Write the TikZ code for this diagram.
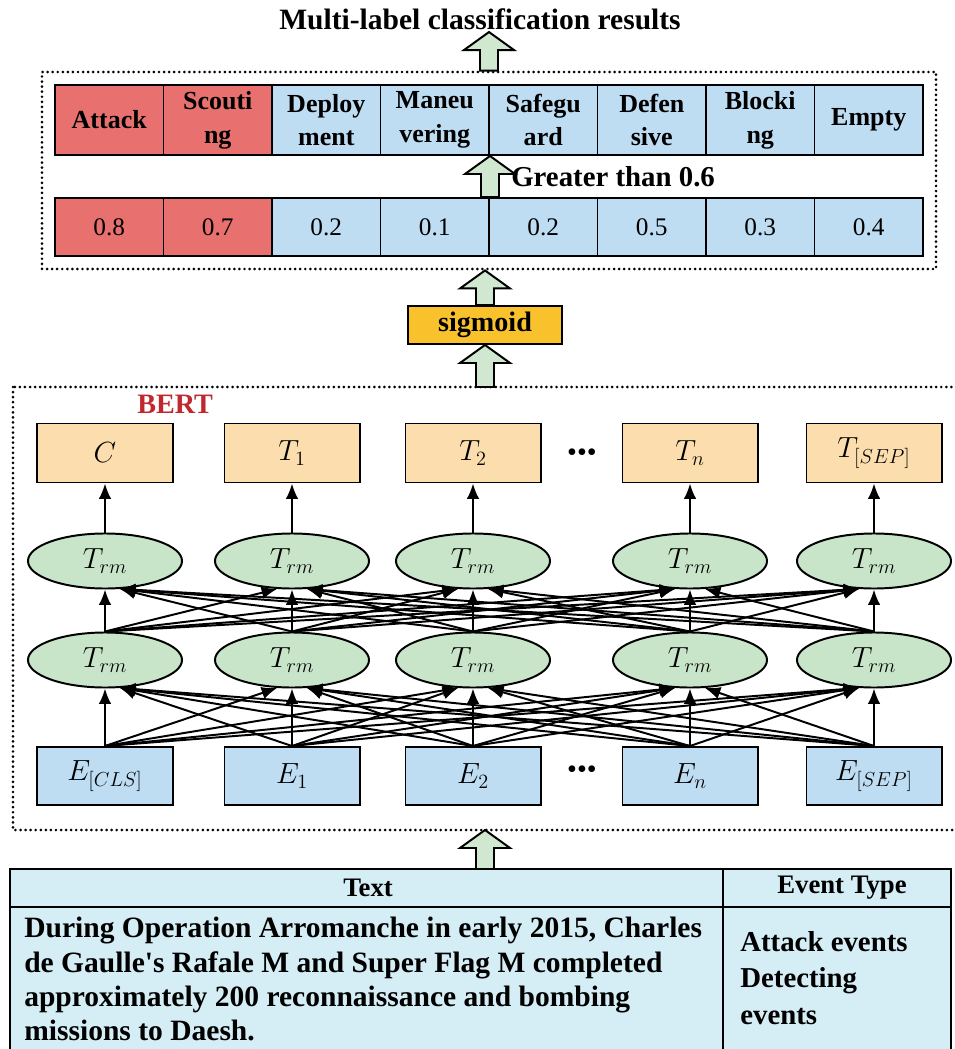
\documentclass[tikz,border=0pt]{standalone}
\usepackage{fontspec}
\setmainfont{Liberation Serif}
\usetikzlibrary{arrows.meta,calc,fit,positioning,shapes.geometric}

\definecolor{redcell}{HTML}{E8716F}
\definecolor{bluecell}{HTML}{BEDDF2}
\definecolor{orangebox}{HTML}{FCDEAE}
\definecolor{greenell}{HTML}{C9E5C9}
\definecolor{sigfill}{HTML}{F9C12B}
\definecolor{tabfill}{HTML}{D5EDF5}
\definecolor{arrfill}{HTML}{D0E8D0}
\definecolor{bertred}{HTML}{C0282D}

\tikzset{
	cell/.style={draw, line width=1.4pt, inner sep=0pt, minimum width=2.7125cm, align=center},
	labcell/.style={cell, minimum height=1.75cm, font=\fontsize{18.5}{24}\selectfont\bfseries},
	valcell/.style={cell, minimum height=1.45cm, font=\fontsize{18}{22}\selectfont},
	tbox/.style={draw, line width=1.4pt, fill=orangebox, minimum width=3.375cm, minimum height=1.475cm, inner sep=0pt, font=\fontsize{20}{24}\selectfont},
	ebox/.style={tbox, fill=bluecell, minimum height=1.45cm},
	trm/.style={ellipse, draw, line width=1.4pt, fill=greenell, minimum width=3.85cm, minimum height=1.375cm, inner sep=0pt, font=\fontsize{20}{24}\selectfont},
	link/.style={line width=1.4pt, -{Latex[length=11pt,width=9pt]}},
	dotbox/.style={draw, line width=2.1pt, line cap=round, dash pattern=on 0pt off 3.6pt},
	fatarr/.style={draw, line width=1.4pt, fill=arrfill, line join=miter},
	bigtext/.style={font=\fontsize{21}{25}\selectfont\bfseries}
}

% block arrow: #1 base, #2 tip (same x)
\newcommand{\fatarrow}[2]{\draw[fatarr] ($(#1)+(-9,0)$) -- ($(#2)+(-9,18)$) -- ($(#2)+(-25,18)$) -- (#2) -- ($(#2)+(25,18)$) -- ($(#2)+(9,18)$) -- ($(#1)+(9,0)$) -- cycle;}

\begin{document}
\begin{tikzpicture}[x=0.025cm, y=-0.025cm]
	\useasboundingbox (0,0) rectangle (954,1049);

	% result rows
	\node[bigtext, anchor=base, inner sep=1pt] (title) at (480,30) {Multi-label classification results};
	\foreach \lab/\val/\col [count=\i] in {Attack/0.8/redcell, Scouti\\ng/0.7/redcell, Deploy\\ment/0.2/bluecell, Maneu\\vering/0.1/bluecell, Safegu\\ard/0.2/bluecell, Defen\\sive/0.5/bluecell, Blocki\\ng/0.3/bluecell, Empty/0.4/bluecell}
	{
		\node[labcell, fill=\col] (l\i) at (55+108.5*\i-54.25,120) {\lab};
		\node[valcell, fill=\col] (v\i) at (55+108.5*\i-54.25,227) {\val};
	}
	\node[dotbox, fit=(l1)(v8), inner sep=0.3cm] (topbox) {};
	\node[anchor=base west, font=\fontsize{20.5}{24}\selectfont\bfseries, inner sep=0pt] (gt) at (511,187) {Greater than 0.6};

	\node[draw, line width=1.4pt, fill=sigfill, minimum width=3.85cm, minimum height=0.95cm, inner sep=0pt, font=\fontsize{20}{24}\selectfont\bfseries] (sig) at (485,325) {sigmoid};

	% BERT
	\coordinate (bertnw) at (13,387);
	\coordinate (bertse) at (958,830);
	\draw[dotbox] (bertnw) rectangle (bertse);
	\node[anchor=base west, inner sep=0pt, text=bertred, font=\fontsize{20}{24}\selectfont\bfseries] (bert) at (137,413) {BERT};

	\foreach \nm/\x/\tx/\ex in {0/105/C/E_{[CLS]}, 1/292/T_1/E_1, 2/473/T_2/E_2, 3/690/T_n/E_n, 4/874/T_{[SEP]}/E_{[SEP]}}
	{
		\node[tbox] (t\nm) at (\x,453) {$\tx$};
		\node[trm] (u\nm) at (\x,561) {$T_{rm}$};
		\node[trm] (d\nm) at (\x,660) {$T_{rm}$};
		\node[ebox] (e\nm) at (\x,776) {$\ex$};
		\draw[link] (u\nm.north) -- (t\nm.south);
	}
	\node[font=\fontsize{20}{24}\selectfont] (dotst) at (582,455) {\textbullet\textbullet\textbullet};
	\node[font=\fontsize{20}{24}\selectfont] (dotse) at (582,772) {\textbullet\textbullet\textbullet};

	\foreach \i in {0,...,4}
		\foreach \j in {0,...,4}
		{
			\ifnum\i<\j \def\ang{-118}\else\ifnum\i>\j \def\ang{-62}\else\def\ang{-90}\fi\fi
			\draw[link] (e\i.north) -- (d\j.\ang);
			\draw[link] (d\i.north) -- (u\j.\ang);
		}

	% input table
	\coordinate (tabtop) at (485,869);
	\fill[tabfill] (10,869) rectangle (951,1055);
	\draw[line width=1.4pt] (10,1055) -- (10,869) -- (951,869) -- (951,1055);
	\draw[line width=1.4pt] (10,907) -- (951,907);
	\draw[line width=1.4pt] (723,869) -- (723,1055);
	\node[font=\fontsize{19}{23}\selectfont\bfseries] (htext) at (368,888) {Text};
	\node[font=\fontsize{19}{23}\selectfont\bfseries] (htype) at (842,888) {Event Type};
	\node[anchor=north west, align=left, inner sep=0pt, font=\fontsize{21}{24.4}\selectfont\bfseries] (sent) at (24,917) {During Operation Arromanche in early 2015, Charles\\de Gaulle\textquotesingle s Rafale M and Super Flag M completed\\approximately 200 reconnaissance and bombing\\missions to Daesh.};
	\node[anchor=north west, align=left, inner sep=0pt, font=\fontsize{20.5}{26}\selectfont\bfseries] (etype) at (740,931) {Attack events\\Detecting\\events};

	% block arrows
	\coordinate (a1t) at (topbox.north |- title.south);
	\coordinate (a3t) at (sig.north |- topbox.south);
	\coordinate (a4b) at (sig.south |- bertnw);
	\coordinate (a5b) at (sig.south |- tabtop);
	\coordinate (a5t) at (sig.south |- bertse);
	\fatarrow{topbox.north}{a1t}
	\fatarrow{v4.north east}{l4.south east}
	\fatarrow{sig.north}{a3t}
	\fatarrow{a4b}{sig.south}
	\fatarrow{a5b}{a5t}
\end{tikzpicture}
\end{document}
